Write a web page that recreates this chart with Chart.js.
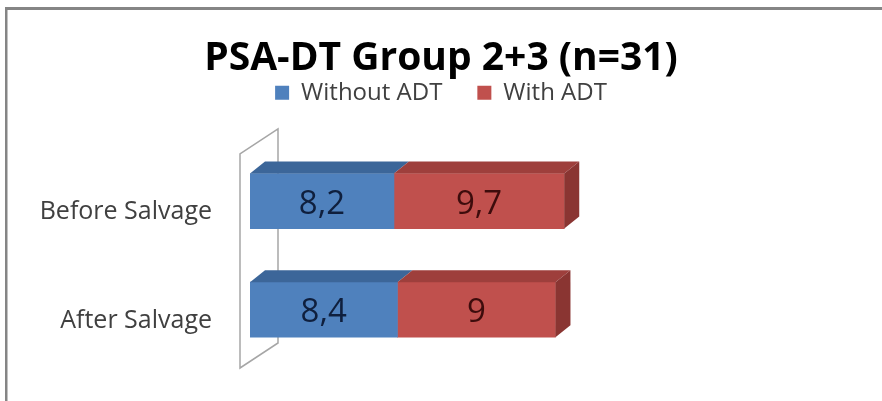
<!DOCTYPE html>
<html>
<head>
<meta charset="utf-8">
<script src="https://cdn.jsdelivr.net/npm/chart.js@4"></script>
<style>
  html, body { margin: 0; padding: 0; background: #fff; overflow: hidden; }
  #wrap { width: 882px; height: 401px; }
</style>
</head>
<body>
<div id="wrap"><canvas id="psaChart" width="882" height="401"></canvas></div>
<script>
const categories = ['Before Salvage', 'After Salvage'];
const withoutAdt = [8.2, 8.4];
const withAdt = [9.7, 9];
const seriesNames = ['Without ADT', 'With ADT'];

const frontColors = ['#4F81BD', '#C0504D'];
const topColors = ['#3C6699', '#9E3F3C'];
const sideColor = '#8A3532';
const labelColors = ['#0F1F3D', '#3D0C0C'];

Chart.defaults.font.family = "'Open Sans', sans-serif";

// outer frame + back wall of the 3d plot
const framePlugin = {
  id: 'frame',
  beforeDraw(chart) {
    const ctx = chart.ctx;
    ctx.save();
    ctx.fillStyle = '#858585';
    ctx.fillRect(5, 7, chart.width - 5, 3);
    ctx.fillRect(5, 7, 2.5, chart.height - 7);
    ctx.restore();
  },
  beforeDatasetsDraw(chart) {
    const ctx = chart.ctx;
    const area = chart.chartArea;
    const x0 = area.left - 10;
    const y0 = area.top + 7;
    const y1 = area.bottom + 4;
    const dx = 38, dy = 25;
    ctx.save();
    ctx.strokeStyle = '#a6a6a6';
    ctx.lineWidth = 1.5;
    ctx.beginPath();
    ctx.moveTo(x0, y0);
    ctx.lineTo(x0 + dx, y0 - dy);
    ctx.lineTo(x0 + dx, y1 - dy);
    ctx.lineTo(x0, y1);
    ctx.closePath();
    ctx.stroke();
    ctx.restore();
  }
};

// fake 3d faces and value labels on top of the flat bars
const bar3dPlugin = {
  id: 'bar3d',
  afterDatasetsDraw(chart) {
    const ctx = chart.ctx;
    const dx = 15, dy = 12;
    const last = chart.data.datasets.length - 1;
    ctx.save();
    chart.data.datasets.forEach((ds, i) => {
      const meta = chart.getDatasetMeta(i);
      meta.data.forEach((bar) => {
        const left = Math.min(bar.base, bar.x);
        const right = Math.max(bar.base, bar.x);
        const top = bar.y - bar.height / 2;
        const bottom = bar.y + bar.height / 2;
        ctx.fillStyle = topColors[i];
        ctx.beginPath();
        ctx.moveTo(left, top);
        ctx.lineTo(left + dx, top - dy);
        ctx.lineTo(right + dx, top - dy);
        ctx.lineTo(right, top);
        ctx.closePath();
        ctx.fill();
        if (i === last) {
          ctx.fillStyle = sideColor;
          ctx.beginPath();
          ctx.moveTo(right, top);
          ctx.lineTo(right + dx, top - dy);
          ctx.lineTo(right + dx, bottom - dy);
          ctx.lineTo(right, bottom);
          ctx.closePath();
          ctx.fill();
        }
      });
    });
    chart.data.datasets.forEach((ds, i) => {
      const meta = chart.getDatasetMeta(i);
      meta.data.forEach((bar, j) => {
        ctx.fillStyle = labelColors[i];
        ctx.font = "33px 'Open Sans'";
        ctx.textAlign = 'center';
        ctx.textBaseline = 'middle';
        const txt = String(ds.data[j]).replace('.', ',');
        ctx.fillText(txt, (bar.base + bar.x) / 2, bar.y + 3);
      });
    });
    ctx.restore();
  }
};

new Chart(document.getElementById('psaChart'), {
  type: 'bar',
  data: {
    labels: categories,
    datasets: [
      { label: seriesNames[0], data: withoutAdt, backgroundColor: frontColors[0], barThickness: 55 },
      { label: seriesNames[1], data: withAdt, backgroundColor: frontColors[1], barThickness: 55 }
    ]
  },
  options: {
    indexAxis: 'y',
    responsive: false,
    animation: false,
    layout: { padding: { left: 0, right: 0, top: 0, bottom: 37 } },
    plugins: {
      title: {
        display: true,
        text: 'PSA-DT Group 2+3 (n=31)',
        color: '#000',
        font: { size: 39, weight: 'bold' },
        padding: { top: 35, bottom: -36 }
      },
      legend: {
        display: true,
        labels: {
          color: '#404040',
          font: { size: 24 },
          boxWidth: 14,
          boxHeight: 14,
          padding: 35
        }
      },
      tooltip: { enabled: false }
    },
    scales: {
      x: {
        stacked: true,
        position: 'top',
        min: 0,
        max: 36,
        grid: { display: false },
        border: { display: false },
        ticks: { display: false },
        afterFit(scale) { scale.height = 32; }
      },
      y: {
        stacked: true,
        grid: { display: false, drawTicks: false },
        border: { display: false },
        ticks: { color: '#404040', font: { size: 25 }, padding: 38, labelOffset: 11 },
        afterFit(scale) {
          scale.width = 250;
          scale.paddingTop = 0;
          scale.paddingBottom = 0;
        }
      }
    }
  },
  plugins: [framePlugin, bar3dPlugin]
});
</script>
</body>
</html>
